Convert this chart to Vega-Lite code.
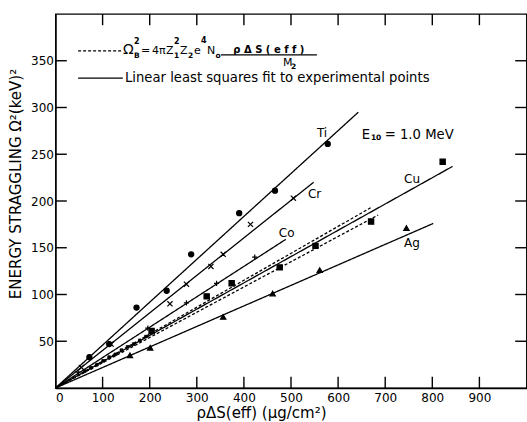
{
  "$schema": "https://vega.github.io/schema/vega-lite/v6.json",
  "width": 471,
  "height": 374,
  "autosize": {"type": "none"},
  "padding": {"left": 55.5, "top": 14, "right": 0, "bottom": 34},
  "background": "white",
  "config": {
    "font": "DejaVu Sans",
    "view": {"stroke": "black", "strokeWidth": 1.3},
    "axis": {"labelColor": "black", "tickColor": "black", "domainColor": "black", "titleColor": "black", "grid": false, "labelFont": "DejaVu Sans", "titleFont": "DejaVu Sans", "titleFontWeight": "normal"}
  },
  "datasets": {
    "lines": [
      {"line": "Ti", "kind": "fit", "x": 0, "y": 0}, {"line": "Ti", "kind": "fit", "x": 643, "y": 295},
      {"line": "Cr", "kind": "fit", "x": 0, "y": 0}, {"line": "Cr", "kind": "fit", "x": 548, "y": 220},
      {"line": "Co", "kind": "fit", "x": 0, "y": 0}, {"line": "Co", "kind": "fit", "x": 489, "y": 159},
      {"line": "Cu", "kind": "fit", "x": 0, "y": 0}, {"line": "Cu", "kind": "fit", "x": 843, "y": 237},
      {"line": "Ag", "kind": "fit", "x": 0, "y": 0}, {"line": "Ag", "kind": "fit", "x": 802, "y": 176},
      {"line": "B1", "kind": "bohr", "x": 0, "y": 0}, {"line": "B1", "kind": "bohr", "x": 670, "y": 193},
      {"line": "B2", "kind": "bohr", "x": 0, "y": 0}, {"line": "B2", "kind": "bohr", "x": 685, "y": 185}
    ],
    "points": [
      {"el": "Ti", "x": 72, "y": 33}, {"el": "Ti", "x": 114, "y": 47}, {"el": "Ti", "x": 172, "y": 86}, {"el": "Ti", "x": 236, "y": 104},
      {"el": "Ti", "x": 288, "y": 143}, {"el": "Ti", "x": 390, "y": 187}, {"el": "Ti", "x": 466, "y": 211}, {"el": "Ti", "x": 578, "y": 261},
      {"el": "Cr", "x": 55, "y": 22}, {"el": "Cr", "x": 118, "y": 47}, {"el": "Cr", "x": 243, "y": 90}, {"el": "Cr", "x": 278, "y": 111},
      {"el": "Cr", "x": 330, "y": 130}, {"el": "Cr", "x": 356, "y": 143}, {"el": "Cr", "x": 414, "y": 175}, {"el": "Cr", "x": 505, "y": 203},
      {"el": "Co", "x": 48, "y": 17}, {"el": "Co", "x": 196, "y": 64}, {"el": "Co", "x": 278, "y": 91}, {"el": "Co", "x": 342, "y": 112}, {"el": "Co", "x": 423, "y": 140},
      {"el": "Cu", "x": 204, "y": 61}, {"el": "Cu", "x": 321, "y": 98}, {"el": "Cu", "x": 374, "y": 112}, {"el": "Cu", "x": 476, "y": 129},
      {"el": "Cu", "x": 552, "y": 152}, {"el": "Cu", "x": 670, "y": 178}, {"el": "Cu", "x": 822, "y": 242},
      {"el": "Ag", "x": 158, "y": 35}, {"el": "Ag", "x": 201, "y": 43}, {"el": "Ag", "x": 356, "y": 76}, {"el": "Ag", "x": 461, "y": 101},
      {"el": "Ag", "x": 561, "y": 126}, {"el": "Ag", "x": 745, "y": 171}
    ],
    "small": [
      {"x": 62, "y": 18}, {"x": 75, "y": 21.5}, {"x": 88, "y": 25}, {"x": 101, "y": 29}, {"x": 114, "y": 33},
      {"x": 127, "y": 36}, {"x": 140, "y": 40.5}, {"x": 153, "y": 44}, {"x": 166, "y": 47}, {"x": 179, "y": 51}, {"x": 192, "y": 55}
    ],
    "ticks": [
      {"x": 100, "x2": 100, "y": 0, "y2": 12}, {"x": 200, "x2": 200, "y": 0, "y2": 12}, {"x": 300, "x2": 300, "y": 0, "y2": 12},
      {"x": 400, "x2": 400, "y": 0, "y2": 12}, {"x": 500, "x2": 500, "y": 0, "y2": 12}, {"x": 600, "x2": 600, "y": 0, "y2": 12},
      {"x": 700, "x2": 700, "y": 0, "y2": 12}, {"x": 800, "x2": 800, "y": 0, "y2": 12}, {"x": 900, "x2": 900, "y": 0, "y2": 12},
      {"x": 100, "x2": 100, "y": 388, "y2": 400}, {"x": 200, "x2": 200, "y": 388, "y2": 400}, {"x": 300, "x2": 300, "y": 388, "y2": 400},
      {"x": 400, "x2": 400, "y": 388, "y2": 400}, {"x": 500, "x2": 500, "y": 388, "y2": 400}, {"x": 600, "x2": 600, "y": 388, "y2": 400},
      {"x": 700, "x2": 700, "y": 388, "y2": 400}, {"x": 800, "x2": 800, "y": 388, "y2": 400}, {"x": 900, "x2": 900, "y": 388, "y2": 400},
      {"x": 0, "x2": 24, "y": 50, "y2": 50}, {"x": 0, "x2": 24, "y": 100, "y2": 100}, {"x": 0, "x2": 24, "y": 150, "y2": 150},
      {"x": 0, "x2": 24, "y": 200, "y2": 200}, {"x": 0, "x2": 24, "y": 250, "y2": 250}, {"x": 0, "x2": 24, "y": 300, "y2": 300},
      {"x": 0, "x2": 24, "y": 350, "y2": 350},
      {"x": 976, "x2": 1000, "y": 50, "y2": 50}, {"x": 976, "x2": 1000, "y": 100, "y2": 100}, {"x": 976, "x2": 1000, "y": 150, "y2": 150},
      {"x": 976, "x2": 1000, "y": 200, "y2": 200}, {"x": 976, "x2": 1000, "y": 250, "y2": 250}, {"x": 976, "x2": 1000, "y": 300, "y2": 300},
      {"x": 976, "x2": 1000, "y": 350, "y2": 350}
    ],
    "elabels": [
      {"t": "Ti", "x": 555, "y": 273}, {"t": "Cr", "x": 536, "y": 207}, {"t": "Co", "x": 474, "y": 166},
      {"t": "Cu", "x": 740, "y": 223}, {"t": "Ag", "x": 740, "y": 155.5}
    ],
    "legtext": [
      {"t": "Linear  least squares fit to experimental points", "x": 147.5, "y": 331.4},
      {"t": "E", "x": 650, "y": 271}, {"t": "= 1.0 MeV", "x": 699, "y": 271}
    ],
    "formula": [
      {"t": "=", "x": 181.5, "y": 360.3}, {"t": "4π", "x": 204.8, "y": 360.3}, {"t": "Z", "x": 234.5, "y": 360.3},
      {"t": "Z", "x": 264.2, "y": 360.3}, {"t": "e", "x": 293.9, "y": 360.3}, {"t": "N", "x": 321.5, "y": 360.3},
      {"t": "M", "x": 482.8, "y": 347.5}
    ],
    "omega": [{"t": "Ω", "x": 143.3, "y": 361}],
    "subs": [
      {"t": "B", "x": 166.6, "y": 355}, {"t": "1", "x": 251.5, "y": 355}, {"t": "2", "x": 281.2, "y": 355},
      {"t": "o", "x": 339.6, "y": 355}, {"t": "2", "x": 500, "y": 343.5}, {"t": "10", "x": 669.6, "y": 267}
    ],
    "sups": [
      {"t": "2", "x": 166.6, "y": 370.5}, {"t": "2", "x": 251.5, "y": 370.5}, {"t": "4", "x": 308.8, "y": 371}
    ],
    "frac": [{"t": "ρ Δ S ( e f f )", "x": 453, "y": 361.5}],
    "rules": [
      {"k": "bohr", "x": 48, "x2": 143, "y": 360.6},
      {"k": "fit", "x": 48, "x2": 143, "y": 331.4},
      {"k": "fit", "x": 351, "x2": 555, "y": 356.2}
    ]
  },
  "layer": [
    {
      "data": {"name": "lines"},
      "mark": {"type": "line", "color": "black", "strokeWidth": 1.3},
      "encoding": {
        "x": {"field": "x", "type": "quantitative", "scale": {"domain": [0, 1000], "nice": false},
          "axis": {"orient": "bottom", "values": [0, 100, 200, 300, 400, 500, 600, 700, 800, 900], "ticks": false, "tickSize": 0, "labelPadding": 4, "labelFontSize": 12, "domainWidth": 1.3,
            "title": "ρΔS(eff) (μg/cm²)", "titleFontSize": 15, "titleX": 205.5, "titleY": 24.5, "titleAlign": "center", "titleBaseline": "middle"}},
        "y": {"field": "y", "type": "quantitative", "scale": {"domain": [0, 400], "nice": false},
          "axis": {"orient": "left", "values": [50, 100, 150, 200, 250, 300, 350], "ticks": false, "tickSize": 0, "labelPadding": 2, "labelFontSize": 12, "domainWidth": 1.3,
            "title": "ENERGY STRAGGLING Ω²(keV)²", "titleFontSize": 15, "titleAngle": -90, "titleX": -40, "titleY": 169.5, "titleAlign": "center", "titleBaseline": "middle"}},
        "detail": {"field": "line"},
        "strokeDash": {"field": "kind", "type": "nominal", "scale": {"domain": ["fit", "bohr"], "range": [[1, 0], [3, 2]]}, "legend": null}
      }
    },
    {
      "data": {"name": "ticks"},
      "mark": {"type": "rule", "color": "black", "strokeWidth": 1.4},
      "encoding": {
        "x": {"field": "x", "type": "quantitative"},
        "x2": {"field": "x2"},
        "y": {"field": "y", "type": "quantitative"},
        "y2": {"field": "y2"}
      }
    },
    {
      "data": {"name": "points"},
      "mark": {"type": "point", "filled": true, "fill": "black", "stroke": "black", "strokeWidth": 1.2, "opacity": 1},
      "encoding": {
        "x": {"field": "x", "type": "quantitative"},
        "y": {"field": "y", "type": "quantitative"},
        "shape": {"field": "el", "type": "nominal", "scale": {"domain": ["Ti", "Cr", "Co", "Cu", "Ag"], "range": ["circle", "M-1,-1L1,1M-1,1L1,-1", "M-1,0L1,0M0,-1L0,1", "square", "triangle-up"]}, "legend": null},
        "size": {"field": "el", "type": "nominal", "scale": {"domain": ["Ti", "Cr", "Co", "Cu", "Ag"], "range": [26, 28, 34, 16, 20]}, "legend": null}
      }
    },
    {
      "data": {"name": "small"},
      "mark": {"type": "point", "shape": "square", "filled": true, "fill": "black", "stroke": "black", "strokeWidth": 0.8, "size": 7, "opacity": 1},
      "encoding": {
        "x": {"field": "x", "type": "quantitative"},
        "y": {"field": "y", "type": "quantitative"}
      }
    },
    {
      "data": {"name": "rules"},
      "mark": {"type": "rule", "color": "black", "strokeWidth": 1.2},
      "encoding": {
        "x": {"field": "x", "type": "quantitative"},
        "x2": {"field": "x2"},
        "y": {"field": "y", "type": "quantitative"},
        "strokeDash": {"field": "k", "type": "nominal", "scale": {"domain": ["fit", "bohr"], "range": [[1, 0], [3, 2]]}, "legend": null}
      }
    },
    {
      "data": {"name": "elabels"},
      "mark": {"type": "text", "align": "left", "baseline": "middle", "fontSize": 12, "color": "black"},
      "encoding": {
        "x": {"field": "x", "type": "quantitative"},
        "y": {"field": "y", "type": "quantitative"},
        "text": {"field": "t"}
      }
    },
    {
      "data": {"name": "legtext"},
      "mark": {"type": "text", "align": "left", "baseline": "middle", "fontSize": 13.2, "color": "black"},
      "encoding": {
        "x": {"field": "x", "type": "quantitative"},
        "y": {"field": "y", "type": "quantitative"},
        "text": {"field": "t"}
      }
    },
    {
      "data": {"name": "formula"},
      "mark": {"type": "text", "align": "left", "baseline": "middle", "fontSize": 11, "color": "black"},
      "encoding": {
        "x": {"field": "x", "type": "quantitative"},
        "y": {"field": "y", "type": "quantitative"},
        "text": {"field": "t"}
      }
    },
    {
      "data": {"name": "omega"},
      "mark": {"type": "text", "align": "left", "baseline": "middle", "fontSize": 14, "color": "black"},
      "encoding": {
        "x": {"field": "x", "type": "quantitative"},
        "y": {"field": "y", "type": "quantitative"},
        "text": {"field": "t"}
      }
    },
    {
      "data": {"name": "subs"},
      "mark": {"type": "text", "align": "left", "baseline": "middle", "fontSize": 7.5, "fontWeight": "bold", "color": "black"},
      "encoding": {
        "x": {"field": "x", "type": "quantitative"},
        "y": {"field": "y", "type": "quantitative"},
        "text": {"field": "t"}
      }
    },
    {
      "data": {"name": "sups"},
      "mark": {"type": "text", "align": "left", "baseline": "middle", "fontSize": 8, "fontWeight": "bold", "color": "black"},
      "encoding": {
        "x": {"field": "x", "type": "quantitative"},
        "y": {"field": "y", "type": "quantitative"},
        "text": {"field": "t"}
      }
    },
    {
      "data": {"name": "frac"},
      "mark": {"type": "text", "align": "center", "baseline": "middle", "fontSize": 10, "fontWeight": "bold", "color": "black"},
      "encoding": {
        "x": {"field": "x", "type": "quantitative"},
        "y": {"field": "y", "type": "quantitative"},
        "text": {"field": "t"}
      }
    }
  ]
}
